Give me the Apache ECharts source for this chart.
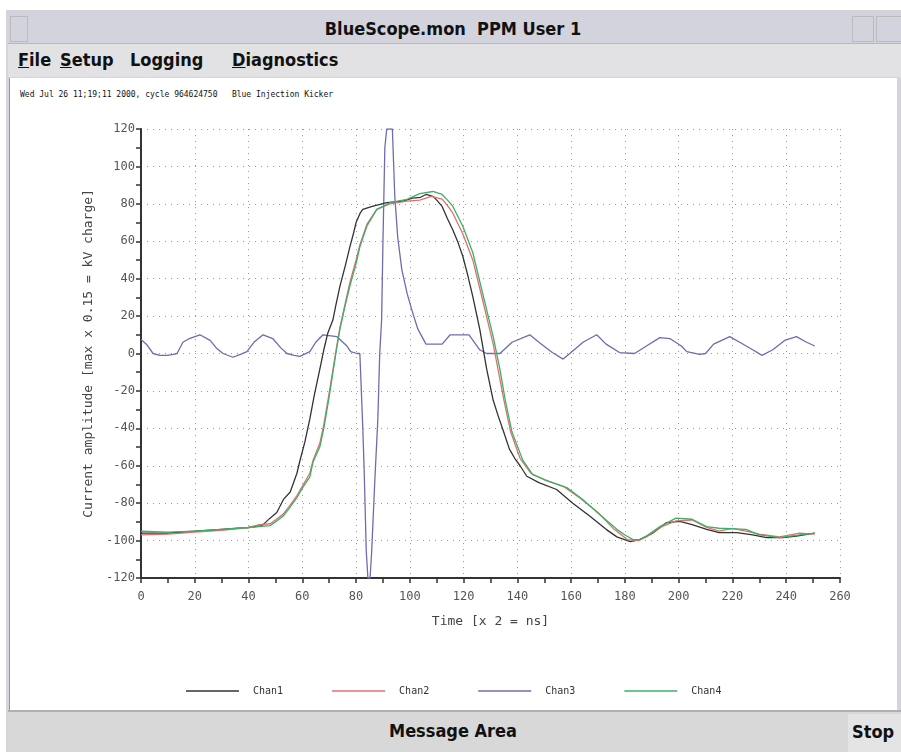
<!DOCTYPE html>
<html>
<head>
<meta charset="utf-8">
<script src="https://cdn.jsdelivr.net/npm/echarts@6/dist/echarts.min.js"></script>
<style>
  body { margin: 0; width: 901px; height: 752px; background: #fff; position: relative; overflow: hidden; font-family: 'DejaVu Sans Condensed', 'DejaVu Sans', sans-serif; }
  .abs { position: absolute; }
  #frame { left: 6px; top: 10px; width: 895px; height: 742px; background: #d4d4da; }
  #titlebar { left: 8px; top: 12px; width: 893px; height: 31px; background: #d2d3dc; border-bottom: 1px solid #b8b8c0; }
  #title { left: 0; top: 18px; width: 906px; text-align: center; font-weight: bold; font-size: 18px; color: #111; }
  #menubar { left: 8px; top: 44px; width: 893px; height: 33px; background: #e2e2e4; }
  .menu { top: 49px; font-weight: bold; font-size: 18px; color: #111; }
  .menu u { text-decoration: underline; }
  #panel { left: 9px; top: 78px; width: 887px; height: 632px; background: #fff; border-left: 1px solid #999; }
  #info { left: 20px; top: 90px; font-family: 'DejaVu Sans Mono', monospace; font-size: 8px; color: #111; white-space: pre; }
  #bottombar { left: 8px; top: 710px; width: 893px; height: 42px; background: #d8d8d8; border-top: 2px solid #b0b0b0; }
  #msg { left: 0; top: 720px; width: 906px; text-align: center; font-weight: bold; font-size: 18px; color: #111; }
  #stop { left: 848px; top: 714px; width: 53px; height: 38px; background: #e4e4e4; font-weight: bold; font-size: 18px; color: #111; line-height: 36px; padding-left: 4px; }
  #btnl { left: 10px; top: 16px; width: 16px; height: 24px; border: 1px solid #bbb; }
  #btnr1 { left: 852px; top: 16px; width: 20px; height: 24px; border: 1px solid #bbb; }
  #btnr2 { left: 876px; top: 16px; width: 25px; height: 24px; border: 1px solid #bbb; }
  #main { left: 0; top: 0; width: 901px; height: 752px; }
</style>
</head>
<body>
<div id="frame" class="abs"></div>
<div id="titlebar" class="abs"></div>
<div id="btnl" class="abs"></div>
<div id="btnr1" class="abs"></div>
<div id="btnr2" class="abs"></div>
<div id="title" class="abs">BlueScope.mon&nbsp; PPM User 1</div>
<div id="menubar" class="abs"></div>
<div class="abs menu" style="left:18px"><u>F</u>ile</div>
<div class="abs menu" style="left:60px"><u>S</u>etup</div>
<div class="abs menu" style="left:130px">Logging</div>
<div class="abs menu" style="left:232px"><u>D</u>iagnostics</div>
<div id="panel" class="abs"></div>
<div id="info" class="abs">Wed Jul 26 11;19;11 2000, cycle 964624750   Blue Injection Kicker</div>
<div id="bottombar" class="abs"></div>
<div id="msg" class="abs">Message Area</div>
<div id="stop" class="abs">Stop</div>
<div id="main" class="abs"></div>
<script>
// channel names + colours
var chanNames = ['Chan1', 'Chan2', 'Chan3', 'Chan4']
var chanColors = ['#333333', '#e07070', '#6c6cb0', '#3cb06a']

// [time, amplitude]
var chan1 = [
  [0, -96], [10, -96], [20, -95], [30, -94], [40, -93], [45, -92], [48, -88], [50.5, -85],
  [53, -78], [55.5, -74], [58, -64], [59, -58], [61, -47], [62.8, -35], [64.5, -22], [66.5, -8.5],
  [68, 2], [69.5, 11], [71.4, 18], [72.5, 26], [74, 36], [76, 47], [77.7, 57], [79, 64],
  [80, 70], [81.5, 75], [82.5, 77], [86, 78.6], [91.4, 80.6], [97.4, 81.5], [101, 83], [104, 83.5],
  [106, 85], [108.6, 84], [110, 82], [112, 78.6], [114, 72], [116, 66], [118, 59], [119.7, 52],
  [121.5, 42], [123.4, 30.5], [126, 13], [128.6, -8.5], [131, -25], [133, -34], [134.6, -40.6], [137, -51],
  [139, -56], [141, -60], [143.5, -65.6], [148, -69], [154.6, -72.7], [160.6, -80], [167, -87], [173, -94],
  [177, -98], [182, -100.5], [185.5, -99.5], [190.4, -96], [195.5, -90.4], [200.4, -89.7], [205, -91.5], [210.4, -94],
  [215, -95.7], [221.6, -95.7], [227.5, -97], [232.7, -98.4], [238.7, -98.4], [243.8, -97.6], [250.6, -96]
]
var chan2 = [
  [0, -97], [10, -96.5], [20, -95.5], [30, -94.5], [40, -93], [44, -91.5], [48, -91], [50, -89],
  [52.8, -86], [55, -82], [58, -76], [60, -71], [62.8, -64], [64, -57], [66.5, -48], [68, -38],
  [70, -21], [72.7, 3], [74, 14], [76, 27], [77.7, 38], [80, 50], [81.4, 58], [84, 69],
  [87.7, 77], [92.6, 80], [98.9, 81.5], [103.7, 82], [108, 84], [112, 82.5], [114, 79], [116, 75],
  [119.7, 64], [123.4, 50], [127, 29], [131, 5], [133, -10], [135, -25], [137.5, -42], [141, -56],
  [145, -64], [150, -67.5], [157, -71], [163, -77], [170, -85], [176, -94], [181, -99.5], [185, -100],
  [188, -98], [193, -93], [199, -89.5], [205, -89], [210.4, -93], [215, -95], [220, -93.5], [225, -95],
  [230, -96.5], [237.5, -98], [245, -96], [250.6, -96.5]
]
var chan3 = [
  [0, 7.5], [2, 5], [4.5, 0], [7, -1], [9.7, -1], [12, -0.5], [13.4, 0], [15.6, 6],
  [18, 8], [21.9, 10], [25.7, 7], [28, 3], [30.5, 0], [34.2, -2], [37, -0.5], [39.4, 1],
  [42, 6], [45.4, 10], [49, 8], [52, 3], [54.3, 0], [57, -1], [59.1, -1.5], [62.8, 1],
  [65, 6], [67.7, 10], [72.9, 9], [76.6, 4], [78, 1], [80.3, 0], [81.4, 0], [81.8, -14],
  [82.5, -40], [83, -62], [83.8, -106], [84.4, -120], [85.2, -120], [85.8, -106], [87, -67], [88.1, -35],
  [88.8, 0], [89.5, 18], [90, 60], [90.7, 110], [91.4, 120], [93.5, 120], [94.4, 84], [95.5, 62],
  [97, 45], [99, 32], [101, 22], [103, 13], [106, 5], [112, 5], [115, 10], [122, 10],
  [126, 2], [128.5, 0], [133.5, 0], [138, 6], [144.6, 10], [148, 6], [153, 0.5], [157, -3],
  [159.5, 0], [164.4, 6], [169.5, 10], [173, 5], [178, 0.5], [183.6, 0], [188, 4], [193, 8.5],
  [196.7, 8], [201, 4], [203, 1], [207.8, -0.5], [210, 0], [213, 5], [219, 9], [222.7, 6],
  [227.5, 2], [231, -1], [235, 2], [239.4, 7], [243.8, 9], [247.6, 6], [250.6, 4]
]
var chan4 = [
  [0, -95], [10, -95.5], [20, -95], [30, -94], [40, -93], [48, -92], [50, -90], [52.8, -87],
  [55, -83], [58, -77], [60, -72], [62.8, -66], [64, -58], [66.5, -50], [68, -40], [70, -23],
  [72.7, 2], [74, 13], [76, 26], [77.7, 36], [80, 48], [81.4, 57], [84, 68], [87.7, 77],
  [92.6, 80.6], [98.9, 82.4], [103.7, 85.5], [108.6, 86.6], [112, 85], [114, 82], [116, 78.6], [119.7, 68],
  [123.4, 54], [127, 32.6], [131, 9], [133.5, -8.5], [135.5, -25], [138, -42], [142, -57], [145.7, -64.7],
  [151, -68], [158.4, -71.7], [164.3, -78], [170.6, -86], [177, -94], [180, -97], [183, -99.5], [185.5, -99.5],
  [188, -97.6], [193, -92.5], [199, -88], [205, -88.6], [210.4, -92.5], [215, -93.4], [225, -94], [230, -97],
  [237.5, -98.4], [245, -97], [250.6, -96]
]
var chanData = [chan1, chan2, chan3, chan4]

var monoFont = 'DejaVu Sans Mono'

var dom = document.getElementById('main')
var myChart = echarts.init(dom, null, { renderer: 'canvas' })
var option = null

var seriesList = []
for (var i = 0; i < chanNames.length; i++) {
  seriesList.push({
    name: chanNames[i],
    type: 'line',
    data: chanData[i],
    symbol: 'none',
    smooth: false,
    clip: true,
    lineStyle: { color: chanColors[i], width: 1.3 },
    itemStyle: { color: chanColors[i] },
    z: i == 2 ? 2 : 3,
  })
}

option = {
  backgroundColor: 'transparent',
  animation: false,
  grid: { left: 141, top: 129, right: 61, bottom: 174, show: false },
  legend: {
    left: 181,
    top: 681,
    icon: 'rect',
    itemWidth: 53,
    itemHeight: 1.5,
    itemGap: 49,
    textStyle: { fontFamily: monoFont, fontSize: 10, color: '#333', padding: [0, 0, 0, 9] },
    data: chanNames,
  },
  xAxis: {
    type: 'value',
    min: 0,
    max: 260,
    interval: 20,
    name: 'Time [x 2 = ns]',
    nameLocation: 'middle',
    nameGap: 37,
    nameTextStyle: { fontFamily: monoFont, fontSize: 13, color: '#444' },
    axisLine: { onZero: false, lineStyle: { color: '#333', width: 2 } },
    axisTick: { show: true, length: 5, lineStyle: { color: '#333', width: 1.5 } },
    minorTick: { show: true, splitNumber: 2, length: 5, lineStyle: { color: '#333', width: 1.5 } },
    axisLabel: { fontFamily: monoFont, fontSize: 12, color: '#555', margin: 13 },
    splitLine: { show: true, lineStyle: { color: '#999', type: [1, 5], width: 1 } },
  },
  yAxis: {
    type: 'value',
    min: -120,
    max: 120,
    interval: 20,
    name: 'Current amplitude [max x 0.15 = kV charge]',
    nameLocation: 'middle',
    nameRotate: 90,
    nameGap: 46,
    nameTextStyle: { fontFamily: monoFont, fontSize: 13, color: '#444' },
    axisLine: { onZero: false, lineStyle: { color: '#333', width: 2 } },
    axisTick: { show: true, length: 5, lineStyle: { color: '#333', width: 1.5 } },
    minorTick: { show: true, splitNumber: 2, length: 5, lineStyle: { color: '#333', width: 1.5 } },
    axisLabel: { fontFamily: monoFont, fontSize: 12, color: '#555', margin: 6 },
    splitLine: { show: true, lineStyle: { color: '#999', type: [1, 5], width: 1 } },
  },
  series: seriesList,
}
if (option && typeof option === 'object') {
  myChart.setOption(option, true)
}
</script>
</body>
</html>
